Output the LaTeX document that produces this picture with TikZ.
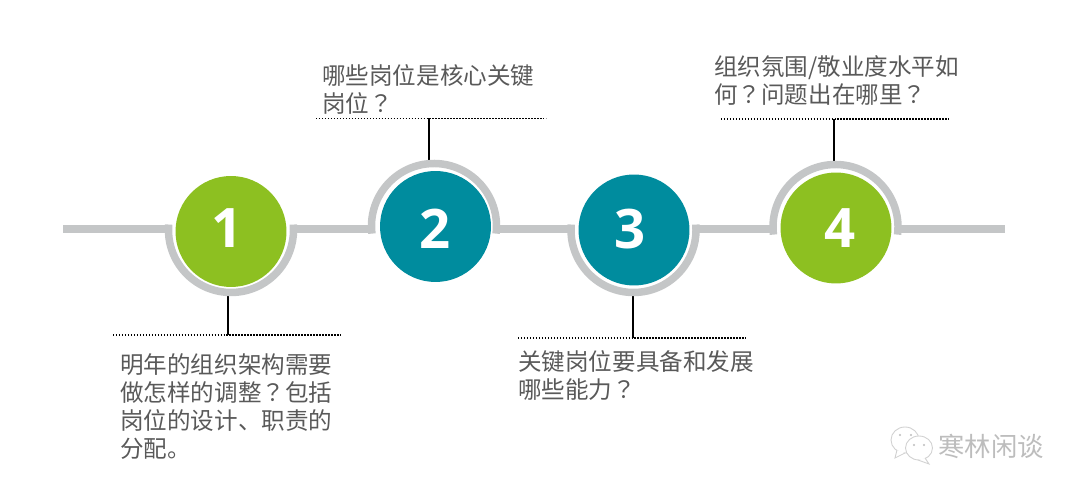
\documentclass[tikz,border=0pt]{standalone}
\usepackage{fontspec}
\setmainfont{Noto Sans CJK SC}
\newfontfamily\numfont{Open Sans}
\newfontfamily\tcfont{Noto Sans CJK TC}
\newcommand{\qmark}{{\tcfont ？}}
\usepackage{tikz}
\definecolor{railgray}{HTML}{C4C6C7}
\definecolor{leafgreen}{HTML}{8DC021}
\definecolor{tealblue}{HTML}{008C9E}
\definecolor{textgray}{HTML}{595959}
\definecolor{markgray}{HTML}{BDBDBD}
\tikzset{
  hub/.style={circle, minimum size=2.22cm, inner sep=0pt, outer sep=0pt},
  digit/.style={inner sep=0pt, text=white, font=\numfont\fontsize{31}{31}\bfseries\selectfont},
  ring/.style={circle, minimum size=2.5cm, inner sep=0pt, outer sep=0pt},
  rail/.style={draw=railgray, line width=0.16cm},
  halfring/.style={draw=railgray, line width=0.15cm},
  dotrule/.style={black, line width=0.95pt, dash pattern=on 0.85pt off 0.85pt},
  stem/.style={black, line width=1pt},
  note/.style={anchor=north west, align=left, inner sep=0pt, text=textgray, font=\fontsize{13.4}{16.05}\selectfont},
  bubble/.style={draw=markgray!70, fill=white, line width=0.5pt}
}

\begin{document}
\begin{tikzpicture}[x=0.02cm, y=0.02cm]
\useasboundingbox (0,0) rectangle (1080,493);

%% 定义轨道的两端和虚线的端点
\coordinate (railL) at (63,264);
\coordinate (railR) at (1005,264);
\coordinate (ruleA1) at (113,158);  \coordinate (ruleA2) at (341,158);
\coordinate (ruleB1) at (316,374.5);  \coordinate (ruleB2) at (546,374.5);
\coordinate (ruleC1) at (518,155);  \coordinate (ruleC2) at (746,155);
\coordinate (ruleD1) at (721,374);  \coordinate (ruleD2) at (949,374);
\coordinate (tickA) at (228,158);
\coordinate (tickB) at (429,374.5);
\coordinate (tickC) at (633,155);
\coordinate (tickD) at (834,374);

%% 圆环的定位点
\node[ring] (ringA) at (231,263) {};
\node[ring] (ringB) at (434,267) {};
\node[ring] (ringC) at (633.5,263) {};
\node[ring] (ringD) at (835.5,266) {};

%% 轨道
\draw[rail] (railL) -- (ringA.west |- railL);
\draw[rail] (ringA.east |- railL) -- (ringB.west |- railL);
\draw[rail] (ringB.east |- railL) -- (ringC.west |- railL);
\draw[rail] (ringC.east |- railL) -- (ringD.west |- railL);
\draw[rail] (ringD.east |- railL) -- (railR);

%% 竖线和虚线
\draw[stem] (tickA |- ringA.south) -- (tickA);
\draw[stem] (tickB |- ringB.north) -- (tickB);
\draw[stem] (tickC |- ringC.south) -- (tickC);
\draw[stem] (tickD |- ringD.north) -- (tickD);
\draw[dotrule] (ruleA1) -- (ruleA2);
\draw[dotrule] (ruleB1) -- (ruleB2);
\draw[dotrule] (ruleC1) -- (ruleC2);
\draw[dotrule] (ruleD1) -- (ruleD2);

%% 半圆环:上下交替
\draw[halfring] (ringA.175) arc[start angle=175, end angle=365, radius=62.5];
\draw[halfring] (ringB.187) arc[start angle=187, end angle=-7, radius=62.5];
\draw[halfring] (ringC.175) arc[start angle=175, end angle=365, radius=62.5];
\draw[halfring] (ringD.187) arc[start angle=187, end angle=-7, radius=62.5];

%% 四个圆
\node[hub, fill=leafgreen] (hubA) at (231,261.5) {};
\node[hub, fill=tealblue] (hubB) at (435.5,266.5) {};
\node[hub, fill=tealblue] (hubC) at (634,263) {};
\node[hub, fill=leafgreen] (hubD) at (836,265) {};
\node[digit] (numA) at (227,265) {1};
\node[digit] (numB) at (435.5,264.5) {2};
\node[digit] (numC) at (630,264) {3};
\node[digit] (numD) at (840,265) {4};

%% 文字
\node[note] (noteA) at (120,140) {明年的组织架构需要\\做怎样的调整\qmark 包括\\岗位的设计、职责的\\分配。};
\node[note] (noteB) at (322,429) {哪些岗位是核心关键\\岗位\qmark};
\node[note] (noteC) at (518,143) {关键岗位要具备和发展\\哪些能力\qmark};
\node[note] (noteD) at (714,438) {组织氛围/敬业度水平如\\何\qmark 问题出在哪里\qmark};

%% 右下角的水印
\draw[bubble] (905,53) ellipse (14 and 13);
\draw[bubble] (897,43) -- (895,35) -- (905,40);
\fill[markgray] (900,58) circle (1.2);
\fill[markgray] (911,58) circle (1.2);
\draw[bubble] (919,45) ellipse (13.5 and 12);
\draw[bubble] (925,35) -- (929,29) -- (918,33);
\fill[markgray] (914,48) circle (1.2);
\fill[markgray] (924,48) circle (1.2);
\node[text=markgray, inner sep=0pt, font=\fontsize{15}{15}\selectfont] (mark) at (991,47) {寒林闲谈};

\end{tikzpicture}
\end{document}
